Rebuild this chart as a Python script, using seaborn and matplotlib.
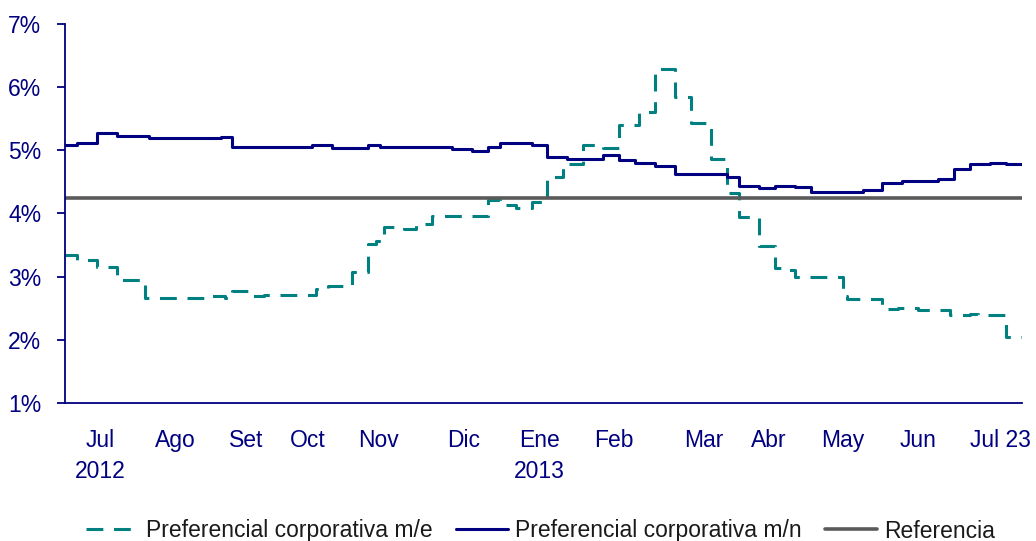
import numpy as np
import pandas as pd
import matplotlib
matplotlib.use('Agg')
import matplotlib.pyplot as plt
import seaborn as sns

# observation index where each rate level starts (last entry = end of series)
me_idx = [0, 3, 8, 13, 20, 35, 40, 42, 47, 50, 63, 66, 72, 76, 78, 80, 85, 88, 92,
          106, 109, 113, 117, 121, 125, 130, 135, 139, 144, 148, 153, 157, 162, 166,
          169, 174, 178, 180, 183, 195, 196, 205, 209, 214, 222, 227, 229, 236, 240]
me_val = [3.34, 3.27, 3.15, 2.94, 2.67, 2.69, 2.67, 2.77, 2.69, 2.71, 2.80, 2.86, 3.08,
          3.52, 3.56, 3.79, 3.75, 3.84, 3.96, 4.21, 4.14, 4.09, 4.18, 4.57, 4.79, 5.08,
          5.04, 5.40, 5.60, 6.29, 5.85, 5.43, 4.87, 4.33, 3.94, 3.48, 3.14, 3.10, 3.00,
          2.70, 2.65, 2.49, 2.50, 2.48, 2.39, 2.41, 2.39, 2.05, 2.05]

mn_idx = [0, 3, 8, 13, 21, 39, 42, 62, 67, 76, 79, 97, 102, 106, 109, 117, 121, 126,
          135, 139, 143, 148, 153, 166, 169, 174, 178, 183, 187, 200, 205, 210, 219,
          223, 227, 232, 236, 240]
mn_val = [5.08, 5.11, 5.28, 5.23, 5.19, 5.21, 5.06, 5.09, 5.04, 5.08, 5.06, 5.02, 4.99,
          5.06, 5.12, 5.08, 4.90, 4.87, 4.92, 4.85, 4.80, 4.75, 4.63, 4.57, 4.44, 4.40,
          4.44, 4.42, 4.34, 4.37, 4.48, 4.52, 4.55, 4.71, 4.78, 4.80, 4.78, 4.78]

referencia = 4.25

tick_pos = [8.75, 27.75, 45.5, 61, 78.5, 100, 119, 137.75, 160.25, 176.5, 195, 214, 234.5]
tick_lab = ['Jul\n2012', 'Ago', 'Set', 'Oct', 'Nov', 'Dic', 'Ene\n2013', 'Feb', 'Mar',
            'Abr', 'May', 'Jun', 'Jul 23']

sns.set_style('white')
plt.rcParams['font.family'] = ['Liberation Sans', 'DejaVu Sans']

navy = '#000080'
teal = '#008080'
grey = '#5a5a5a'

df_me = pd.DataFrame({'x': me_idx, 'y': me_val})
df_mn = pd.DataFrame({'x': mn_idx, 'y': mn_val})

fig = plt.figure(figsize=(10.36, 5.41), dpi=100)
ax = fig.add_axes([65 / 1036, 1 - 403 / 541, (1022 - 65) / 1036, (403 - 24) / 541])

sns.lineplot(df_me, x='x', y='y', ax=ax, color=teal, lw=2.2, drawstyle='steps-post',
             label='Preferencial corporativa m/e')
ax.lines[-1].set_dashes((5.5, 3.5))
sns.lineplot(df_mn, x='x', y='y', ax=ax, color=navy, lw=2.2, drawstyle='steps-post',
             label='Preferencial corporativa m/n')
ax.axhline(referencia, color=grey, lw=2.6, label='Referencia')

ax.set_xlim(0, 240)
ax.set_ylim(1, 7)
ax.set_yticks(range(1, 8))
ax.set_yticklabels(['%d%%' % v for v in range(1, 8)])
ax.set_xticks(tick_pos)
ax.set_xticklabels(tick_lab)
ax.set_xlabel('')
ax.set_ylabel('')

for s in ['top', 'right']:
    ax.spines[s].set_visible(False)
for s in ['left', 'bottom']:
    ax.spines[s].set_color(navy)
    ax.spines[s].set_linewidth(1.3)
ax.tick_params(axis='y', length=6, width=1.3, color=navy, labelcolor=navy,
               labelsize=16.5, pad=11, left=True, direction='out')
ax.tick_params(axis='x', length=0, labelcolor=navy, labelsize=16.5, pad=19)
for t in ax.get_xticklabels():
    t.set_linespacing(1.45)

ax.legend(loc='center', bbox_to_anchor=(0.522, (541 - 531) / 541), bbox_transform=fig.transFigure,
          ncol=3, frameon=False, fontsize=16.5, handlelength=2.3, columnspacing=1.0,
          handletextpad=0.3, labelcolor='#1a1a1a')

fig.savefig('out.png', dpi=100)
